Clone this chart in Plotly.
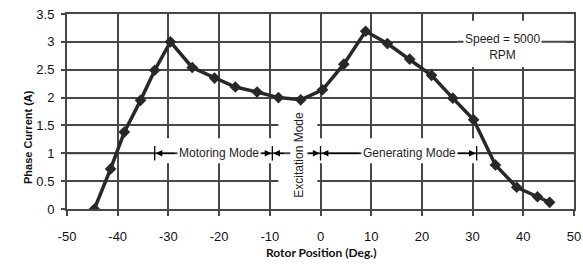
import plotly.graph_objects as go

# Data
rotor_pos = [-44.6, -41.4, -38.7, -35.5, -32.7, -29.6, -25.3, -20.9, -16.8, -12.5,
             -8.3, -3.9, 0.4, 4.6, 8.9, 13.2, 17.6, 21.9, 26.1, 30.2, 34.5, 38.7, 42.8, 45.2]
phase_current = [0.0, 0.72, 1.38, 1.95, 2.49, 3.0, 2.54, 2.35, 2.19, 2.1,
                 2.0, 1.96, 2.14, 2.6, 3.19, 2.97, 2.69, 2.4, 1.99, 1.6, 0.79, 0.39, 0.22, 0.12]
x_ticks = [-50, -40, -30, -20, -10, 0, 10, 20, 30, 40, 50]
y_ticks = [0, 0.5, 1, 1.5, 2, 2.5, 3, 3.5]

GRID = "#474747"
INK = "#282828"
FONT = "Liberation Sans, Arial, sans-serif"

fig = go.Figure()
fig.add_trace(go.Scatter(
    x=rotor_pos, y=phase_current, mode="lines+markers",
    line=dict(color=INK, width=3.5),
    marker=dict(symbol="diamond", size=9, color=INK),
    showlegend=False, hoverinfo="skip"))

shapes = []
# white masks hiding gridlines behind annotation areas
for x0, x1, y0, y1 in [(-33.0, 31.2, 0.82, 1.27), (-8.3, -0.6, 0.12, 1.88), (27.0, 48.5, 2.55, 3.38)]:
    shapes.append(dict(type="rect", xref="x", yref="y", x0=x0, x1=x1, y0=y0, y1=y1,
                       fillcolor="white", line=dict(width=0), layer="between"))
# restore the gridlines that pass through the masked areas
for yv, x0, x1 in [(1, -50, 50), (3, 27.0, 50)]:
    shapes.append(dict(type="line", xref="x", yref="y", x0=x0, x1=x1, y0=yv, y1=yv,
                       line=dict(color=GRID, width=2), layer="between"))
# mode boundary bars
for xb in [-32.7, -9.5, 0.0, 30.8]:
    shapes.append(dict(type="line", xref="x", yref="y", x0=xb, x1=xb, y0=0.87, y1=1.13,
                       line=dict(color="black", width=1.3), layer="above"))

ann = []
arrows = [(-28.5, -32.5), (-11.8, -9.7), (-7.0, -9.3), (-2.6, -0.2), (8.0, 0.25), (26.5, 30.6)]
for tail, head in arrows:
    ann.append(dict(x=head, y=1, ax=tail, ay=1, xref="x", yref="y", axref="x", ayref="y",
                    showarrow=True, arrowhead=2, arrowsize=1.1, arrowwidth=1.2,
                    arrowcolor="black", text=""))
tfont = dict(family=FONT, size=12, color="#1e1e1e")
ann.append(dict(x=-20, y=1, xref="x", yref="y", text="Motoring Mode", showarrow=False,
                bgcolor="white", font=tfont, borderpad=1))
ann.append(dict(x=17.5, y=1, xref="x", yref="y", text="Generating Mode", showarrow=False,
                bgcolor="white", font=tfont, borderpad=1))
ann.append(dict(x=-4.3, y=0.97, xref="x", yref="y", text="Excitation Mode", showarrow=False,
                textangle=-90, bgcolor="white", font=tfont, borderpad=1))
ann.append(dict(x=35.9, y=2.9, xref="x", yref="y", text="Speed = 5000<br>RPM", showarrow=False,
                bgcolor="white", font=tfont, borderpad=1))
# axis titles
ann.append(dict(x=0.501, y=-0.272, xref="paper", yref="paper", text="<b>Rotor Position (Deg.)</b>",
                showarrow=False, font=dict(family="Lato, sans-serif", size=12, color="#111")))
ann.append(dict(x=-0.0927, y=0.369, xref="paper", yref="paper", text="<b>Phase Current (A)</b>",
                showarrow=False, textangle=-90, font=dict(family=FONT, size=11, color="#111")))

fig.update_layout(
    width=583, height=268,
    margin=dict(l=67, r=9, t=14, b=59, autoexpand=False),
    paper_bgcolor="white", plot_bgcolor="white",
    shapes=shapes, annotations=ann,
    xaxis=dict(range=[-50, 50], tickvals=x_ticks, ticktext=[str(v) for v in x_ticks],
               showgrid=True, gridcolor=GRID, gridwidth=2, zeroline=False, automargin=False,
               showline=True, linecolor=GRID, linewidth=2, mirror=True,
               ticks="outside", ticklen=5, tickwidth=2, tickcolor=GRID,
               ticklabelstandoff=9,
               tickfont=dict(family=FONT, size=13, color="#111")),
    yaxis=dict(range=[0, 3.5], tickvals=y_ticks, ticktext=[f"{v:g}" for v in y_ticks],
               showgrid=True, gridcolor=GRID, gridwidth=2, zeroline=False, automargin=False,
               showline=True, linecolor=GRID, linewidth=2, mirror=True,
               ticks="outside", ticklen=4, tickwidth=2, tickcolor=GRID,
               ticklabelstandoff=4,
               tickfont=dict(family=FONT, size=13, color="#111")),
)
# remove the browser's default 8px body margin so the figure fills the window
fig.write_html("out.html", config={"displayModeBar": False},
               post_script="document.body.style.margin='0px';")
